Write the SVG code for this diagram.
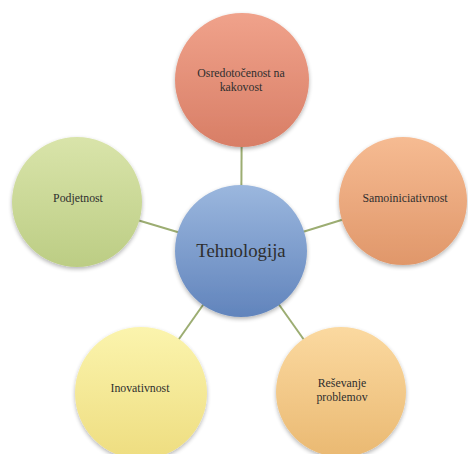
<svg xmlns="http://www.w3.org/2000/svg" width="468" height="454" viewBox="0 0 468 454">
  <defs>
    <linearGradient id="gTop" x1="0" y1="0" x2="0" y2="1">
      <stop offset="0" stop-color="#f0a28b"/>
      <stop offset="1" stop-color="#d87e66"/>
    </linearGradient>
    <linearGradient id="gHub" x1="0" y1="0" x2="0" y2="1">
      <stop offset="0" stop-color="#9bb7de"/>
      <stop offset="1" stop-color="#6184bc"/>
    </linearGradient>
    <linearGradient id="gRight" x1="0" y1="0" x2="0" y2="1">
      <stop offset="0" stop-color="#f6bb92"/>
      <stop offset="1" stop-color="#e0976a"/>
    </linearGradient>
    <linearGradient id="gBotR" x1="0" y1="0" x2="0" y2="1">
      <stop offset="0" stop-color="#fbd9a0"/>
      <stop offset="1" stop-color="#eab972"/>
    </linearGradient>
    <linearGradient id="gBotL" x1="0" y1="0" x2="0" y2="1">
      <stop offset="0" stop-color="#fbf4ad"/>
      <stop offset="1" stop-color="#eedd80"/>
    </linearGradient>
    <linearGradient id="gLeft" x1="0" y1="0" x2="0" y2="1">
      <stop offset="0" stop-color="#d9e4aa"/>
      <stop offset="1" stop-color="#bccd84"/>
    </linearGradient>
    <filter id="shadow" x="-20%" y="-20%" width="140%" height="150%">
      <feGaussianBlur in="SourceAlpha" stdDeviation="2"/>
      <feOffset dx="0" dy="2" result="b"/>
      <feComponentTransfer><feFuncA type="linear" slope="0.3"/></feComponentTransfer>
      <feMerge><feMergeNode/><feMergeNode in="SourceGraphic"/></feMerge>
    </filter>
  </defs>
  <style>
    .link { stroke: #9cad72; stroke-width: 2; fill: none; }
    .node circle { filter: url(#shadow); }
    .lbl { font-family: "Liberation Serif", "DejaVu Serif", serif; font-size: 11.8px; fill: #2e2e2e; text-anchor: middle; }
    .hub { font-family: "Liberation Serif", "DejaVu Serif", serif; font-size: 18.8px; fill: #2e2e2e; text-anchor: middle; }
  </style>
  <rect width="468" height="454" fill="#ffffff"/>

  <!-- spokes from the hub to each satellite -->
  <g id="connectors">
    <line class="link" x1="241" y1="251" x2="242" y2="80"/>
    <line class="link" x1="241" y1="251" x2="77" y2="202"/>
    <line class="link" x1="241" y1="251" x2="403" y2="201"/>
    <line class="link" x1="241" y1="251" x2="141" y2="393"/>
    <line class="link" x1="241" y1="251" x2="341" y2="392"/>
  </g>

  <g id="node-kakovost" class="node">
    <circle cx="242" cy="80" r="67" fill="url(#gTop)"/>
    <text class="lbl" x="241" y="77">Osredotočenost na</text>
    <text class="lbl" x="241" y="91">kakovost</text>
  </g>
  <g id="node-podjetnost" class="node">
    <circle cx="77" cy="202" r="65" fill="url(#gLeft)"/>
    <text class="lbl" x="78" y="202">Podjetnost</text>
  </g>
  <g id="node-samoiniciativnost" class="node">
    <circle cx="403" cy="201" r="64" fill="url(#gRight)"/>
    <text class="lbl" x="405" y="202">Samoiniciativnost</text>
  </g>
  <g id="node-inovativnost" class="node">
    <circle cx="141" cy="393" r="66" fill="url(#gBotL)"/>
    <text class="lbl" x="140" y="392">Inovativnost</text>
  </g>
  <g id="node-resevanje" class="node">
    <circle cx="341" cy="392" r="65" fill="url(#gBotR)"/>
    <text class="lbl" x="342" y="387">Reševanje</text>
    <text class="lbl" x="342" y="401">problemov</text>
  </g>
  <g id="node-tehnologija" class="node">
    <circle cx="241" cy="251" r="66" fill="url(#gHub)"/>
    <text class="hub" x="241" y="257">Tehnologija</text>
  </g>
</svg>
